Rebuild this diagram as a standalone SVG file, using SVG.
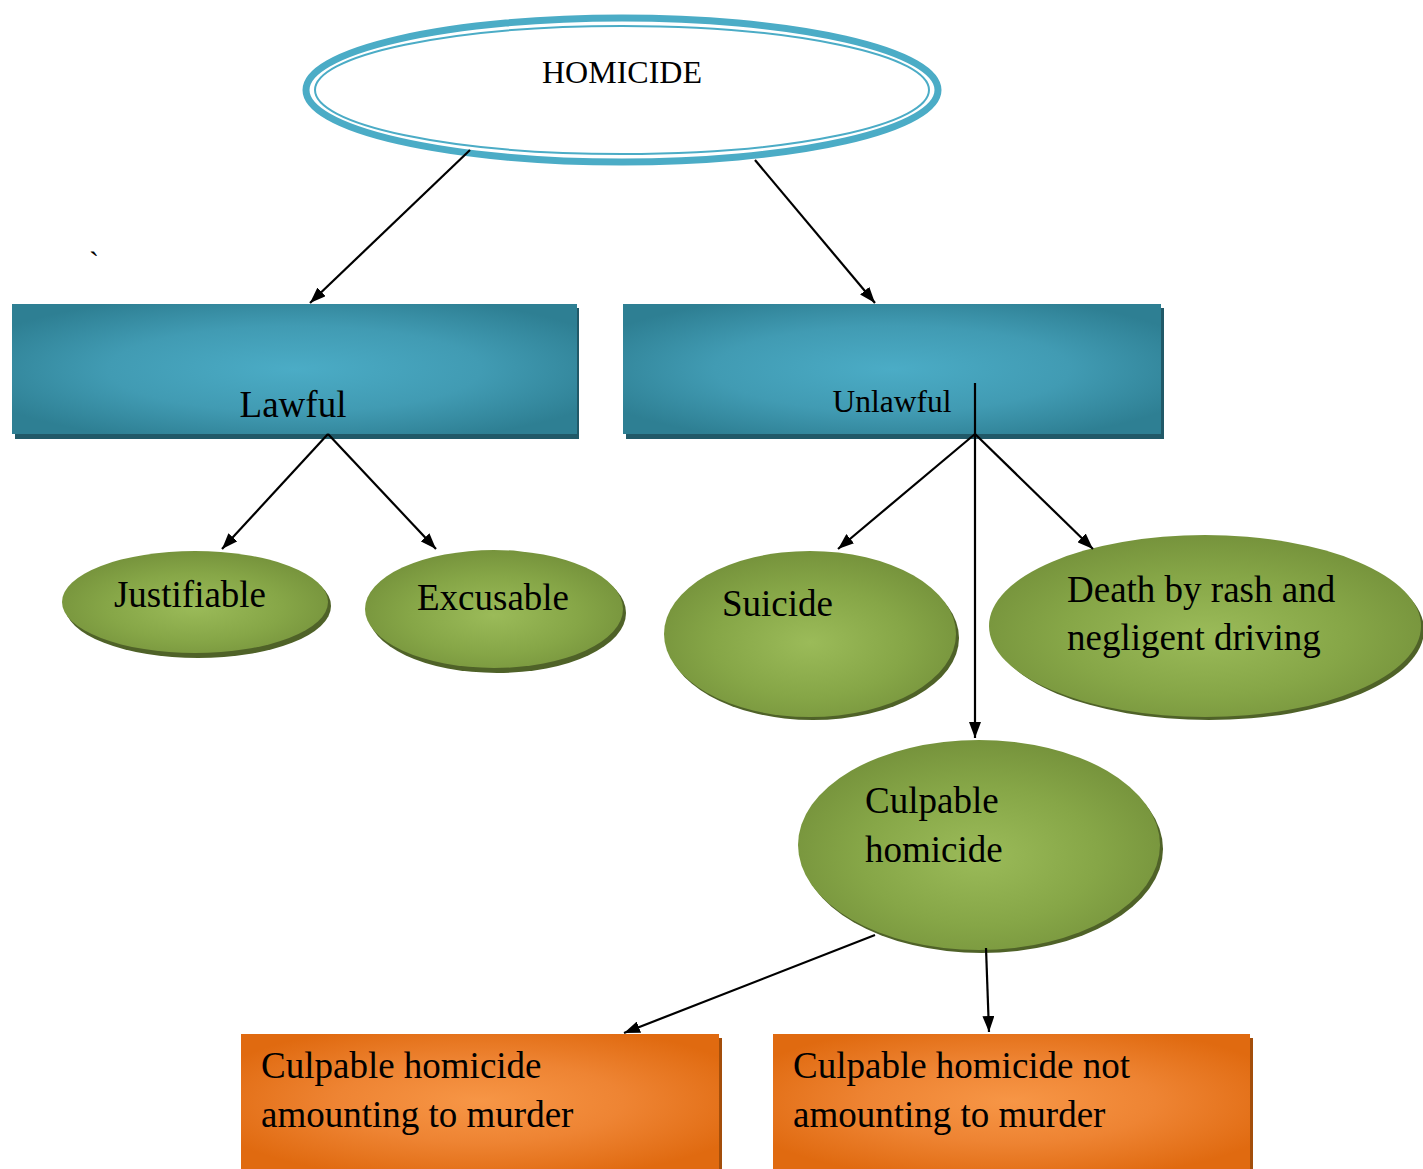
<svg xmlns="http://www.w3.org/2000/svg" width="1423" height="1169" viewBox="0 0 1423 1169">
<defs>
<radialGradient id="gTeal" cx="0.5" cy="0.5" r="0.6">
<stop offset="0" stop-color="#4BACC6"/>
<stop offset="0.55" stop-color="#419BB3"/>
<stop offset="1" stop-color="#2E7F93"/>
</radialGradient>
<radialGradient id="gGreen" cx="0.5" cy="0.55" r="0.55">
<stop offset="0" stop-color="#9BBB59"/>
<stop offset="0.6" stop-color="#86A647"/>
<stop offset="1" stop-color="#76933C"/>
</radialGradient>
<radialGradient id="gOrange" cx="0.5" cy="0.5" r="0.6">
<stop offset="0" stop-color="#F79646"/>
<stop offset="0.5" stop-color="#EE8433"/>
<stop offset="1" stop-color="#E06A10"/>
</radialGradient>
<marker id="arr" viewBox="0 0 16 12" refX="16" refY="6" markerWidth="16" markerHeight="12" markerUnits="userSpaceOnUse" orient="auto">
<path d="M0,0 L16,6 L0,12 z" fill="#000"/>
</marker>
</defs>
<style>
.t{font-family:"Liberation Serif","Times New Roman",serif;fill:#000;}
.f36{font-size:37px;}
.edge{stroke:#000;stroke-width:2.2;fill:none;}
.ea{marker-end:url(#arr);}
.tealShadow{fill:#215968;}
.greenShadow{fill:#4F6228;}
.orangeShadow{fill:#A34E0A;}
</style>
<rect width="1423" height="1169" fill="#fff"/>

<g id="homicide">
<ellipse cx="622" cy="90" rx="316" ry="72" fill="#fff" stroke="#4BACC6" stroke-width="7"/>
<ellipse cx="622" cy="90" rx="307" ry="64" fill="none" stroke="#4BACC6" stroke-width="2"/>
<text class="t" x="622" y="83" font-size="32" text-anchor="middle">HOMICIDE</text>
</g>

<text class="t" x="89" y="272" font-size="30">`</text>

<g id="lawful">
<rect class="tealShadow" x="15" y="308" width="564" height="131"/>
<rect x="12" y="304" width="565" height="130" fill="url(#gTeal)"/>
<text class="t f36" x="293" y="417" text-anchor="middle">Lawful</text>
</g>

<g id="unlawful">
<rect class="tealShadow" x="626" y="308" width="538" height="131"/>
<rect x="623" y="304" width="538" height="130" fill="url(#gTeal)"/>
<text class="t" x="892" y="412" font-size="31.5" text-anchor="middle">Unlawful</text>
</g>

<g id="justifiable">
<ellipse class="greenShadow" cx="198" cy="606" rx="133" ry="52"/>
<ellipse cx="195" cy="602" rx="133" ry="51" fill="url(#gGreen)"/>
<text class="t f36" x="190" y="607" text-anchor="middle">Justifiable</text>
</g>

<g id="excusable">
<ellipse class="greenShadow" cx="497" cy="613" rx="129" ry="60"/>
<ellipse cx="494" cy="609" rx="129" ry="59" fill="url(#gGreen)"/>
<text class="t f36" x="493" y="610" text-anchor="middle">Excusable</text>
</g>

<g id="suicide">
<ellipse class="greenShadow" cx="813" cy="638" rx="146" ry="82"/>
<ellipse cx="810" cy="634" rx="146" ry="83" fill="url(#gGreen)"/>
<text class="t f36" x="722" y="616">Suicide</text>
</g>

<g id="death">
<ellipse class="greenShadow" cx="1209" cy="630" rx="215" ry="90"/>
<ellipse cx="1205" cy="626" rx="216" ry="91" fill="url(#gGreen)"/>
<text class="t f36" x="1067" y="602">Death by rash and</text>
<text class="t f36" x="1067" y="650">negligent driving</text>
</g>

<g id="culpable">
<ellipse class="greenShadow" cx="982" cy="849" rx="181" ry="104"/>
<ellipse cx="979" cy="845" rx="181" ry="105" fill="url(#gGreen)"/>
<text class="t f36" x="865" y="813">Culpable</text>
<text class="t f36" x="865" y="862">homicide</text>
</g>

<g id="murder">
<rect class="orangeShadow" x="244" y="1038" width="478" height="131"/>
<rect x="241" y="1034" width="478" height="135" fill="url(#gOrange)"/>
<text class="t f36" x="261" y="1078">Culpable homicide</text>
<text class="t f36" x="261" y="1127">amounting to murder</text>
</g>

<g id="notmurder">
<rect class="orangeShadow" x="776" y="1038" width="477" height="131"/>
<rect x="773" y="1034" width="477" height="135" fill="url(#gOrange)"/>
<text class="t f36" x="793" y="1078">Culpable homicide not</text>
<text class="t f36" x="793" y="1127">amounting to murder</text>
</g>

<g id="connectors">
<line class="edge ea" x1="470" y1="150" x2="310" y2="303"/>
<line class="edge ea" x1="755" y1="160" x2="875" y2="303"/>
<line class="edge ea" x1="328" y1="434" x2="222" y2="549"/>
<line class="edge ea" x1="328" y1="434" x2="436" y2="549"/>
<line class="edge ea" x1="975" y1="383" x2="975" y2="738"/>
<line class="edge ea" x1="975" y1="434" x2="838" y2="549"/>
<line class="edge ea" x1="975" y1="434" x2="1093" y2="549"/>
<line class="edge ea" x1="875" y1="935" x2="624" y2="1033"/>
<line class="edge ea" x1="986" y1="948" x2="989" y2="1032"/>
</g>
</svg>
